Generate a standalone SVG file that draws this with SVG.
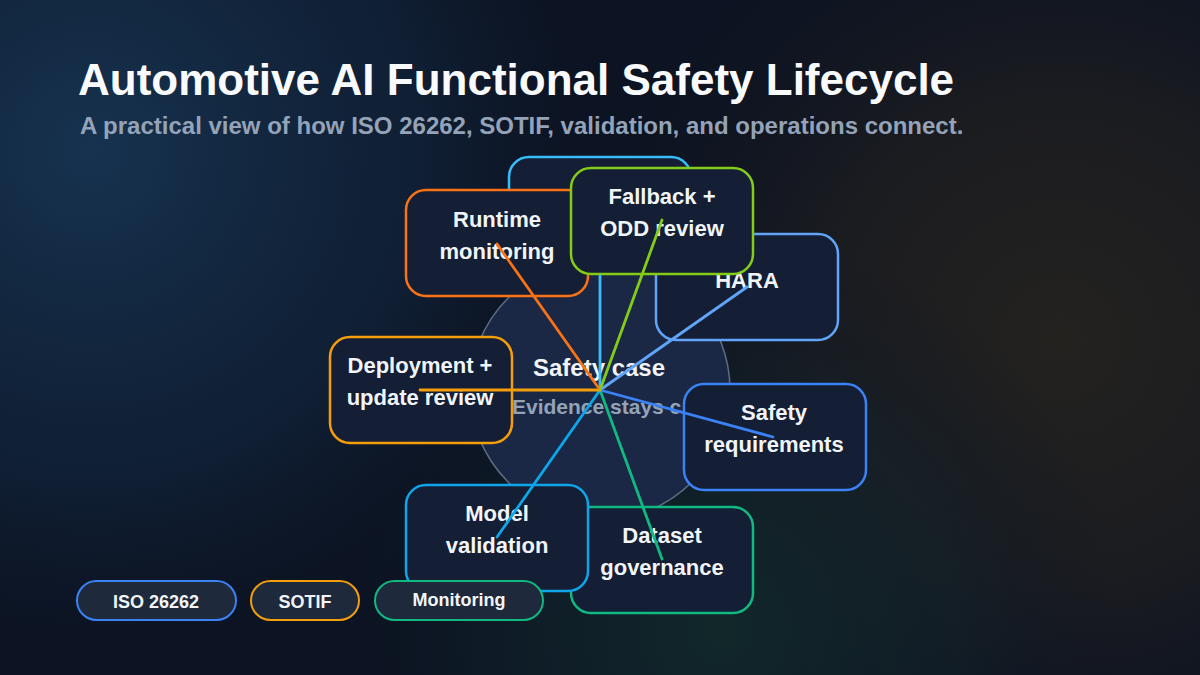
<svg xmlns="http://www.w3.org/2000/svg" width="1200" height="675" viewBox="0 0 1200 675">
  <defs>
    <radialGradient id="gBlue" cx="90" cy="150" r="560" gradientUnits="userSpaceOnUse">
      <stop offset="0" stop-color="#173452" stop-opacity="0.95"/>
      <stop offset="0.6" stop-color="#132a44" stop-opacity="0.5"/>
      <stop offset="1" stop-color="#0b1120" stop-opacity="0"/>
    </radialGradient>
    <radialGradient id="gWarm" cx="1060" cy="340" r="540" gradientUnits="userSpaceOnUse">
      <stop offset="0" stop-color="#25231f" stop-opacity="0.95"/>
      <stop offset="0.45" stop-color="#201f20" stop-opacity="0.75"/>
      <stop offset="1" stop-color="#0b1120" stop-opacity="0"/>
    </radialGradient>
    <radialGradient id="gGreen" cx="720" cy="630" r="400" gradientUnits="userSpaceOnUse">
      <stop offset="0" stop-color="#122a2b" stop-opacity="0.9"/>
      <stop offset="0.6" stop-color="#10222a" stop-opacity="0.5"/>
      <stop offset="1" stop-color="#0b1120" stop-opacity="0"/>
    </radialGradient>
    <style>
      .title { font-family: "Liberation Sans", Arial, sans-serif; font-weight: 700; font-size: 44px; fill: #f8fafc; }
      .sub { font-family: "Liberation Sans", Arial, sans-serif; font-weight: 700; font-size: 24px; fill: #94a3b8; }
      .box { fill: #141e34; stroke-width: 2.5; }
      .lbl { font-family: "Liberation Sans", Arial, sans-serif; font-weight: 700; font-size: 22px; fill: #f1f5f9; text-anchor: middle; }
      .conn { stroke-width: 2.8; stroke-linecap: round; fill: none; }
      .pill { fill: #1e293b; stroke-width: 2; }
      .pl { font-family: "Liberation Sans", Arial, sans-serif; font-weight: 700; font-size: 18px; fill: #f1f5f9; text-anchor: middle; }
    </style>
  </defs>

  <rect width="1200" height="675" fill="#0c1322"/>
  <rect width="1200" height="675" fill="url(#gBlue)"/>
  <rect width="1200" height="675" fill="url(#gWarm)"/>
  <rect width="1200" height="675" fill="url(#gGreen)"/>

  <text class="title" x="78" y="95">Automotive AI Functional Safety Lifecycle</text>
  <text class="sub" x="80" y="134">A practical view of how ISO 26262, SOTIF, validation, and operations connect.</text>

  <g id="hub">
    <circle cx="600" cy="390" r="130" fill="#1a2845" stroke="#5d6c83" stroke-width="1.5"/>
    <text x="599" y="376" text-anchor="middle" font-family="Liberation Sans, Arial, sans-serif" font-weight="700" font-size="24" fill="#f1f5f9">Safety case</text>
    <text x="512" y="414" font-family="Liberation Sans, Arial, sans-serif" font-weight="700" font-size="21" fill="#94a3b8">Evidence stays c</text>
  </g>

  <g id="node-top">
    <rect class="box" x="509" y="157" width="182" height="106" rx="20" stroke="#38bdf8"/>
  </g>
  <g id="node-hara">
    <rect class="box" x="656" y="234" width="182" height="106" rx="20" stroke="#60a5fa"/>
    <text class="lbl" x="747" y="288">HARA</text>
  </g>
  <g id="node-safety-requirements">
    <rect class="box" x="684" y="384" width="182" height="106" rx="20" stroke="#3b82f6"/>
    <text class="lbl" x="774" y="420">Safety</text>
    <text class="lbl" x="774" y="452">requirements</text>
  </g>
  <g id="node-dataset-governance">
    <rect class="box" x="571" y="507" width="182" height="106" rx="20" stroke="#10b981"/>
    <text class="lbl" x="662" y="543">Dataset</text>
    <text class="lbl" x="662" y="575">governance</text>
  </g>
  <g id="node-model-validation">
    <rect class="box" x="406" y="485" width="182" height="106" rx="20" stroke="#0ea5e9"/>
    <text class="lbl" x="497" y="521">Model</text>
    <text class="lbl" x="497" y="553">validation</text>
  </g>
  <g id="node-deployment">
    <rect class="box" x="330" y="337" width="182" height="106" rx="20" stroke="#f59e0b"/>
    <text class="lbl" x="420" y="373">Deployment +</text>
    <text class="lbl" x="420" y="405">update review</text>
  </g>
  <g id="node-runtime-monitoring">
    <rect class="box" x="406" y="190" width="182" height="106" rx="20" stroke="#f97316"/>
    <text class="lbl" x="497" y="227">Runtime</text>
    <text class="lbl" x="497" y="259">monitoring</text>
  </g>
  <g id="node-fallback">
    <rect class="box" x="571" y="168" width="182" height="106" rx="20" stroke="#84cc16"/>
    <text class="lbl" x="662" y="204">Fallback +</text>
    <text class="lbl" x="662" y="236">ODD review</text>
  </g>

  <g id="connectors">
    <line class="conn" x1="600" y1="390" x2="600" y2="276" stroke="#38bdf8"/>
    <line class="conn" x1="600" y1="390" x2="747" y2="287" stroke="#60a5fa"/>
    <line class="conn" x1="600" y1="390" x2="773" y2="437" stroke="#3b82f6"/>
    <line class="conn" x1="600" y1="390" x2="662" y2="559" stroke="#10b981"/>
    <line class="conn" x1="600" y1="390" x2="497" y2="537" stroke="#0ea5e9"/>
    <line class="conn" x1="600" y1="390" x2="420" y2="390" stroke="#f59e0b"/>
    <line class="conn" x1="600" y1="390" x2="497" y2="244" stroke="#f97316"/>
    <line class="conn" x1="600" y1="390" x2="662" y2="220" stroke="#84cc16"/>
  </g>

  <g id="legend">
    <g id="legend-iso">
      <rect class="pill" x="77" y="581" width="159" height="39" rx="19.5" stroke="#3b82f6"/>
      <text class="pl" x="156" y="608">ISO 26262</text>
    </g>
    <g id="legend-sotif">
      <rect class="pill" x="251" y="581" width="108" height="39" rx="19.5" stroke="#f59e0b"/>
      <text class="pl" x="305" y="608">SOTIF</text>
    </g>
    <g id="legend-monitoring">
      <rect class="pill" x="375" y="581" width="168" height="39" rx="19.5" stroke="#10b981"/>
      <text class="pl" x="459" y="606">Monitoring</text>
    </g>
  </g>
</svg>
